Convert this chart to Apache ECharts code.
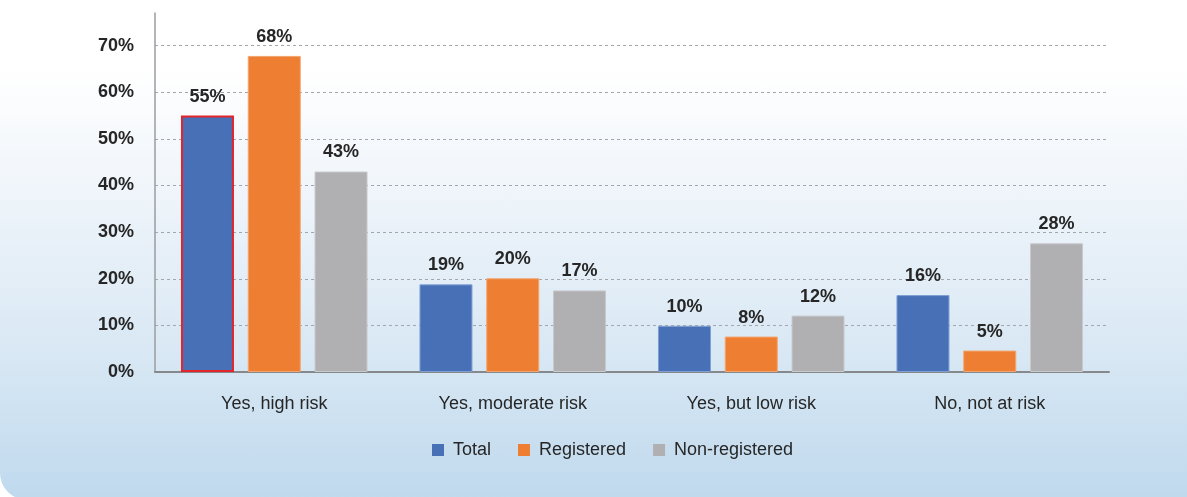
<!DOCTYPE html>
<html>
<head>
<meta charset="utf-8">
<script src="https://cdn.jsdelivr.net/npm/echarts@6/dist/echarts.min.js"></script>
<style>
  html, body { margin: 0; padding: 0; width: 1187px; height: 497px; overflow: hidden; background: #ffffff; }
  #panel { position: absolute; left: 0; top: 0; width: 1220px; height: 500px;
    border-bottom-left-radius: 27px;
    background: linear-gradient(to bottom, #ffffff 0%, #ffffff 14%, #eef4fa 40%, #d9e8f4 70%, #bfd9ed 100%); }
  #chart { position: absolute; left: 0; top: 0; width: 1187px; height: 497px; }
</style>
</head>
<body>
<div id="panel"></div>
<div id="chart"></div>
<script>
const categories = ['Yes, high risk', 'Yes, moderate risk', 'Yes, but low risk', 'No, not at risk'];
const seriesNames = ['Total', 'Registered', 'Non-registered'];
const totalValues = [55.0, 18.8, 9.9, 16.5];
const registeredValues = [67.8, 20.1, 7.6, 4.6];
const nonRegisteredValues = [43.0, 17.5, 12.1, 27.6];
const totalLabels = ['55%', '19%', '10%', '16%'];
const registeredLabels = ['68%', '20%', '8%', '5%'];
const nonRegisteredLabels = ['43%', '17%', '12%', '28%'];
const yTicks = [0, 10, 20, 30, 40, 50, 60, 70];

const FONT = '"Liberation Sans", Arial, sans-serif';
const TEXT = '#262626';

function labelCfg(texts) {
  return {
    show: true, position: 'top', distance: 10,
    fontFamily: FONT, fontSize: 18, fontWeight: 'bold', color: TEXT,
    formatter: p => texts[p.dataIndex]
  };
}

const chart = echarts.init(document.getElementById('chart'), null, { renderer: 'canvas' });
const gridColors = yTicks.map(() => '#a3a7ab').concat(['rgba(0,0,0,0)']);

chart.setOption({
  backgroundColor: 'transparent',
  animation: false,
  grid: { left: 155, right: 78, top: 13, bottom: 125 },
  legend: {
    left: 427, top: 436,
    itemWidth: 12, itemHeight: 12, itemGap: 27,
    icon: 'rect',
    itemStyle: { borderWidth: 0 },
    textStyle: { fontFamily: FONT, fontSize: 18, color: TEXT, padding: [0, 0, 0, 4] },
    data: seriesNames
  },
  xAxis: {
    type: 'category',
    data: categories,
    axisLine: { show: true, lineStyle: { color: '#86898c', width: 2 } },
    axisTick: { show: false },
    axisLabel: { fontFamily: FONT, fontSize: 18, color: TEXT, margin: 23 }
  },
  yAxis: {
    type: 'value',
    min: 0, max: 77, interval: 10,
    axisLine: { show: true, lineStyle: { color: '#9a9da0', width: 1.5 } },
    axisTick: { show: false },
    axisLabel: {
      fontFamily: FONT, fontSize: 18, fontWeight: 'bold', color: TEXT, margin: 21,
      formatter: v => (yTicks.indexOf(v) >= 0 ? v + '%' : '')
    },
    splitLine: { show: true, lineStyle: { color: gridColors, type: [3, 3], width: 1 } }
  },
  series: [
    {
      name: seriesNames[0], type: 'bar', barWidth: 53, barGap: '26%',
      itemStyle: { color: '#4770b6', borderColor: '#7f9fd3', borderWidth: 1 },
      data: totalValues.map((v, i) => i === 0
        ? { value: v, itemStyle: { borderColor: '#e3242b', borderWidth: 2 } }
        : v),
      label: labelCfg(totalLabels)
    },
    {
      name: seriesNames[1], type: 'bar', barWidth: 53, barGap: '26%',
      itemStyle: { color: '#ed7e32', borderColor: '#f4a56e', borderWidth: 1 },
      data: registeredValues,
      label: labelCfg(registeredLabels)
    },
    {
      name: seriesNames[2], type: 'bar', barWidth: 53, barGap: '26%',
      itemStyle: { color: '#b0b0b2', borderColor: '#c9cacc', borderWidth: 1 },
      data: nonRegisteredValues,
      label: labelCfg(nonRegisteredLabels)
    }
  ]
});
</script>
</body>
</html>
